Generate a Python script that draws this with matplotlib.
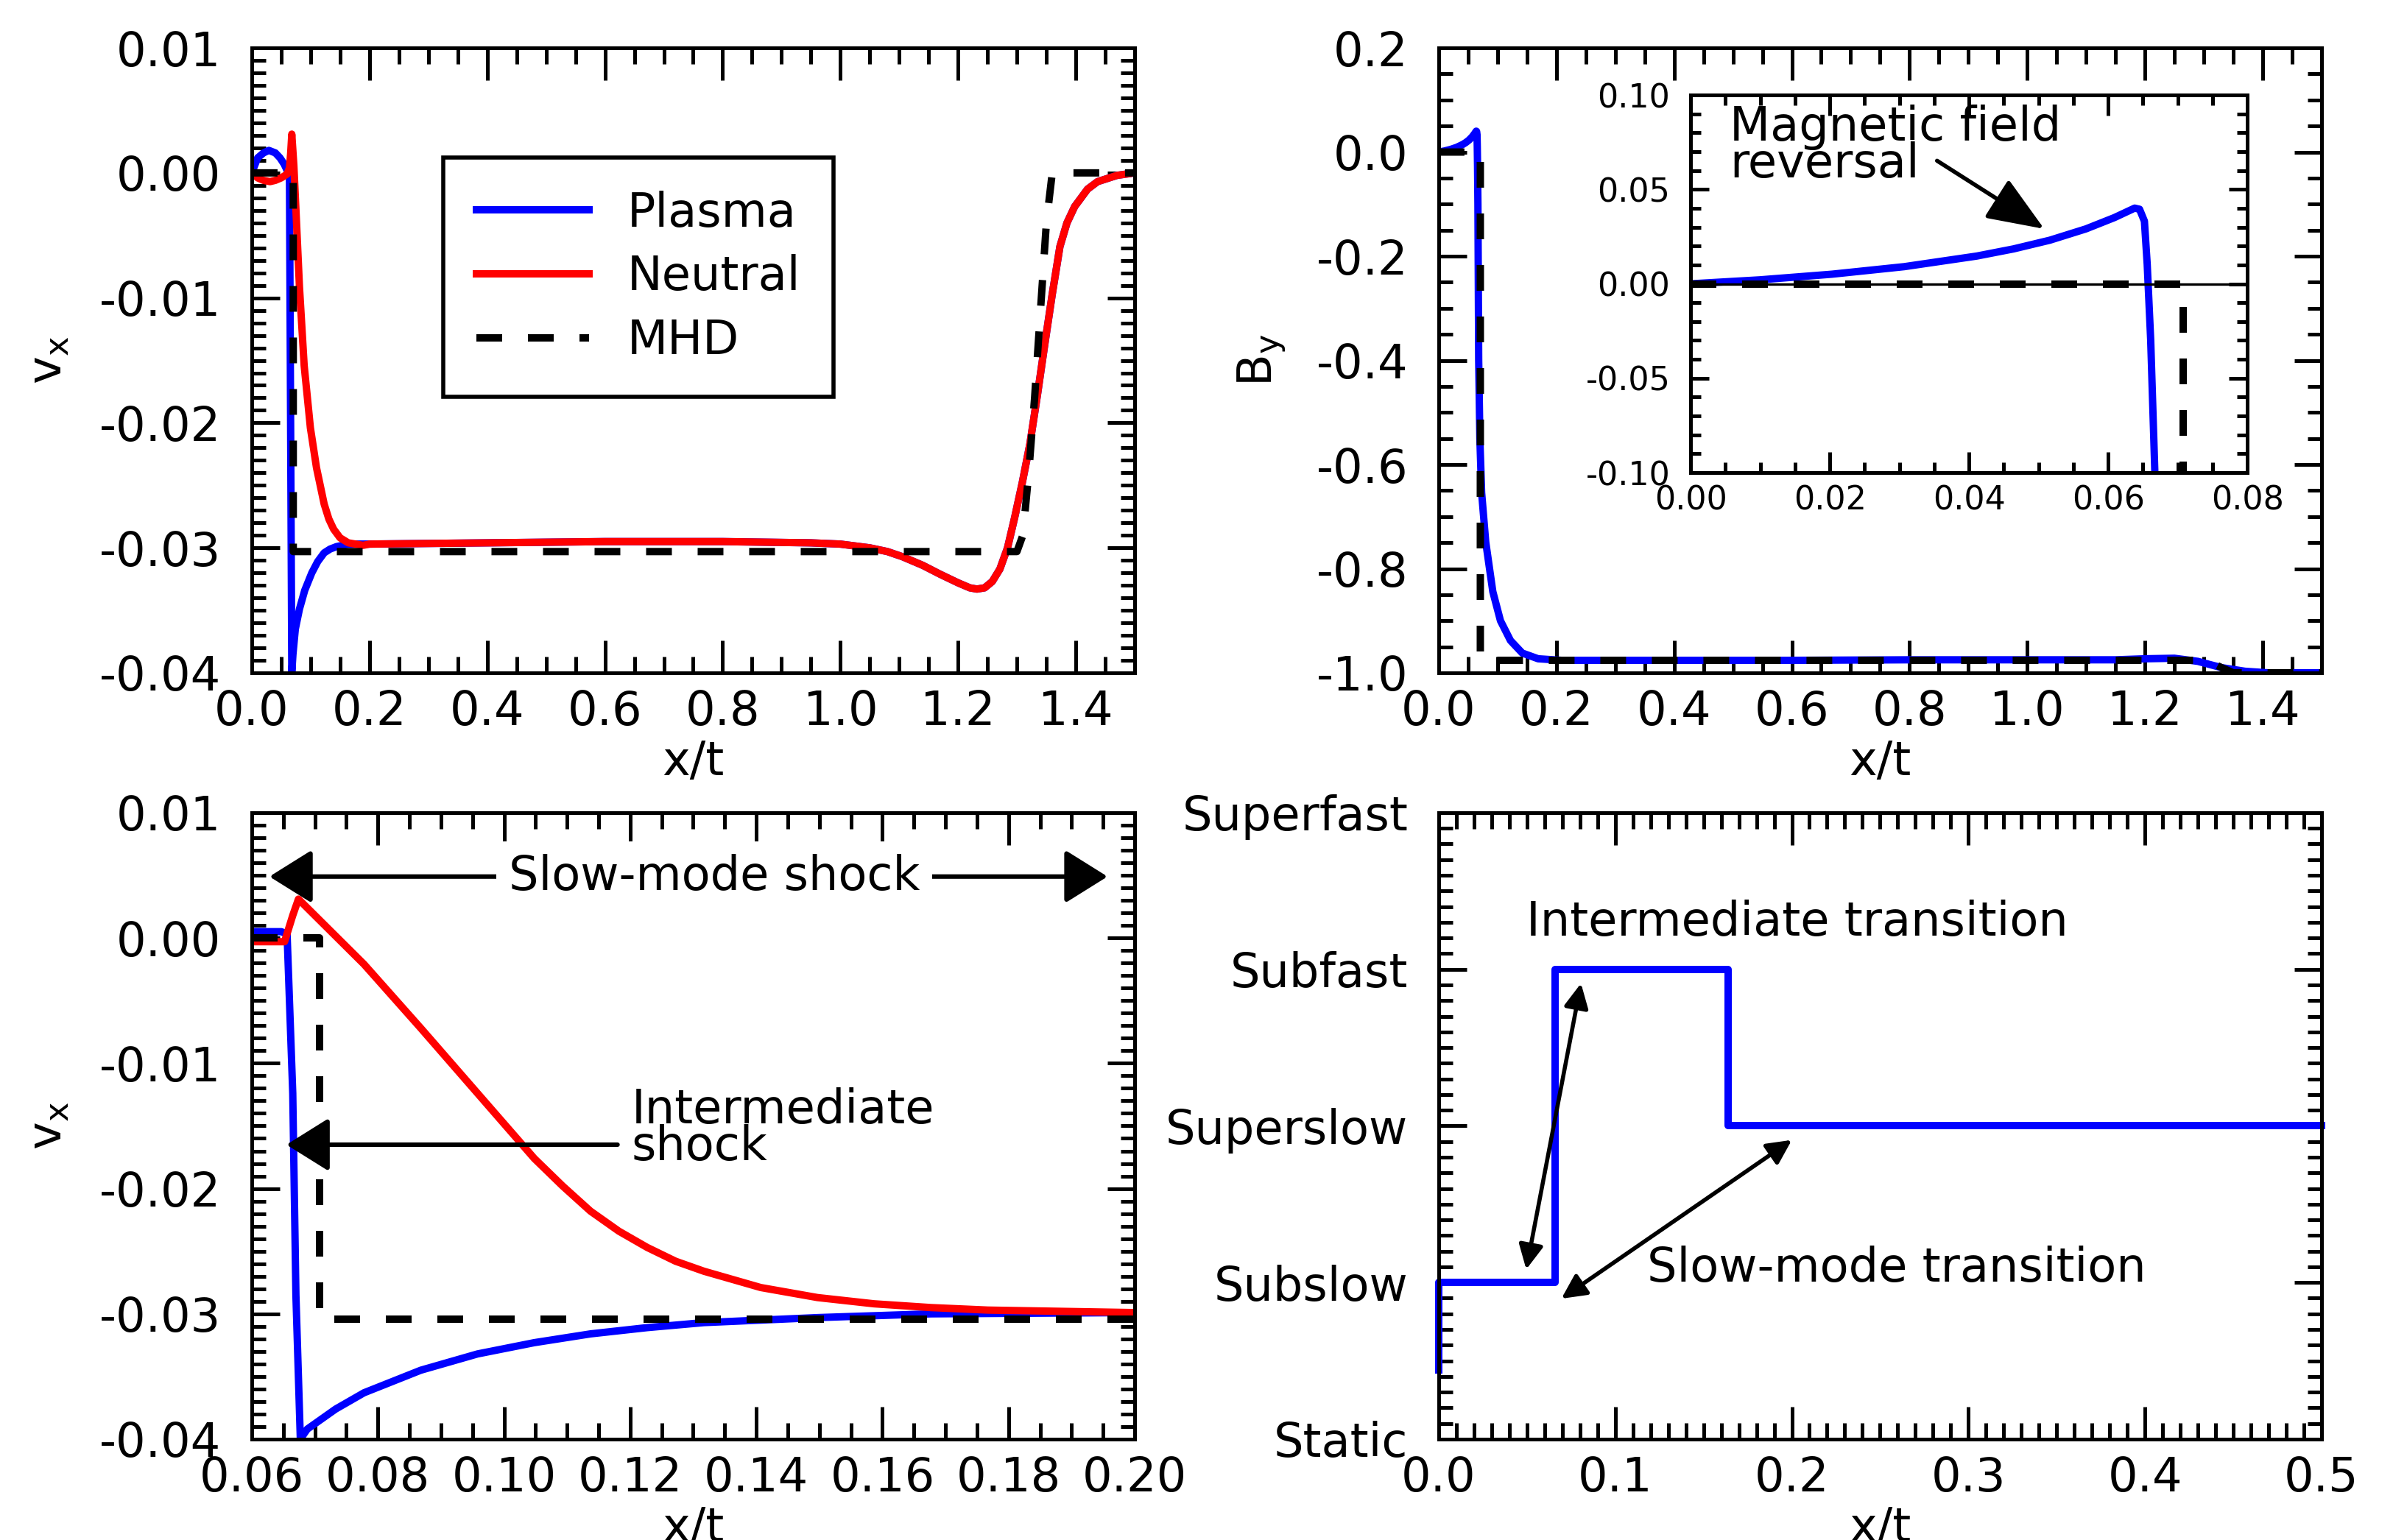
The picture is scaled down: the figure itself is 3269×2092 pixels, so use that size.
import matplotlib.pyplot as plt
from matplotlib.ticker import MultipleLocator, FormatStrFormatter

plt.rcParams['font.family'] = ['DejaVu Sans']
plt.rcParams['font.size'] = 23
plt.rcParams['mathtext.default'] = 'regular'
plt.rcParams['axes.unicode_minus'] = False
plt.rcParams['axes.linewidth'] = 1.8

# v_x profiles over the full range (plasma / neutral / MHD)
xt_plasma = [0.0, 0.01, 0.02, 0.029, 0.04, 0.048, 0.055, 0.060, 0.064, 0.066,
             0.068, 0.070, 0.074, 0.081, 0.090, 0.102, 0.112, 0.123, 0.133,
             0.144, 0.164, 0.2, 0.4, 0.6, 0.8, 0.95, 1.0, 1.05, 1.08, 1.105,
             1.14, 1.169, 1.20, 1.22, 1.232, 1.245, 1.258, 1.271, 1.284, 1.296,
             1.309, 1.322, 1.335, 1.347, 1.36, 1.373, 1.385, 1.398, 1.42, 1.437,
             1.47, 1.5]
vx_plasma = [0.0, 0.0012, 0.0016, 0.0018, 0.0016, 0.0012, 0.0007, 0.0002, 0.0,
             -0.0200, -0.0400, -0.0385, -0.0365, -0.0349, -0.0334, -0.0320,
             -0.0311, -0.0304, -0.0301, -0.0299, -0.0297, -0.0297, -0.0296,
             -0.0295, -0.0295, -0.0296, -0.0297, -0.0300, -0.0303, -0.0307,
             -0.0314, -0.0321, -0.0328, -0.0332, -0.0333, -0.0332, -0.0327,
             -0.0317, -0.0300, -0.0276, -0.0248, -0.0217, -0.0177, -0.0138,
             -0.0097, -0.0059, -0.0040, -0.0027, -0.0013, -0.0007, -0.0002, 0.0]

xt_neutral = [0.0, 0.01, 0.02, 0.031, 0.04, 0.05, 0.060, 0.064, 0.066, 0.068,
              0.0715, 0.0747, 0.081, 0.089, 0.0996, 0.110, 0.123, 0.131, 0.139,
              0.150, 0.164, 0.189, 0.2, 0.4, 0.6, 0.8, 0.95, 1.0, 1.05, 1.08,
              1.105, 1.14, 1.169, 1.20, 1.22, 1.232, 1.245, 1.258, 1.271, 1.284,
              1.296, 1.309, 1.322, 1.335, 1.347, 1.36, 1.373, 1.385, 1.398, 1.42,
              1.437, 1.47, 1.5]
vx_neutral = [0.0, -0.0004, -0.0006, -0.0007, -0.0006, -0.0004, -0.0001, 0.0004,
              0.0015, 0.0031, 0.0006, -0.0026, -0.0091, -0.0154, -0.0204,
              -0.0236, -0.0265, -0.0277, -0.0285, -0.0292, -0.0296, -0.0298,
              -0.0297, -0.0296, -0.0295, -0.0295, -0.0296, -0.0297, -0.0300,
              -0.0303, -0.0307, -0.0314, -0.0321, -0.0328, -0.0332, -0.0333,
              -0.0332, -0.0327, -0.0317, -0.0300, -0.0276, -0.0248, -0.0217,
              -0.0177, -0.0138, -0.0097, -0.0059, -0.0040, -0.0027, -0.0013,
              -0.0007, -0.0002, 0.0]

xt_mhd = [0.0, 0.0705, 0.0705, 1.30, 1.31, 1.32, 1.33, 1.34, 1.35, 1.36, 1.5]
vx_mhd = [0.0, 0.0, -0.0303, -0.0303, -0.0290, -0.0240, -0.0180, -0.0110,
          -0.0040, 0.0, 0.0]

# v_x close to the shock (bottom left)
xs_plasma = [0.06, 0.0647, 0.0656, 0.0665, 0.0670, 0.0677, 0.0688, 0.0733,
             0.0778, 0.0868, 0.0958, 0.1048, 0.1137, 0.1227, 0.1317, 0.1407,
             0.1497, 0.1677, 0.20]
vs_plasma = [0.0005, 0.0005, 0.0003, -0.0124, -0.0285, -0.0400, -0.0392,
             -0.0376, -0.0363, -0.0345, -0.0332, -0.0323, -0.0316, -0.0311,
             -0.0307, -0.0305, -0.0303, -0.0300, -0.0299]
xs_neutral = [0.06, 0.0652, 0.0665, 0.0674, 0.0778, 0.0868, 0.0958, 0.1003,
              0.1048, 0.1093, 0.1137, 0.1182, 0.1227, 0.1272, 0.1317, 0.1407,
              0.1497, 0.1587, 0.1677, 0.1767, 0.20]
vs_neutral = [-0.0003, -0.0003, 0.0018, 0.0031, -0.0021, -0.0072, -0.0124,
              -0.0150, -0.0176, -0.0198, -0.0218, -0.0234, -0.0247, -0.0258,
              -0.0266, -0.0279, -0.0287, -0.0292, -0.0295, -0.0297, -0.0299]
xs_mhd = [0.06, 0.0707, 0.0707, 0.20]
vs_mhd = [0.0, 0.0, -0.0304, -0.0304]

# B_y profiles
xt_by = [0.0, 0.0099, 0.0203, 0.0307, 0.0411, 0.0464, 0.0516, 0.0568, 0.0609,
         0.0638, 0.0645, 0.0652, 0.0656, 0.0661, 0.0667, 0.0680, 0.070, 0.073,
         0.080, 0.092, 0.105, 0.122, 0.142, 0.169, 0.209, 0.4, 0.6, 0.8, 1.0,
         1.15, 1.2, 1.25, 1.29, 1.33, 1.37, 1.41, 1.5]
by_plasma = [0.0, 0.0021, 0.0051, 0.0091, 0.0147, 0.0185, 0.0231, 0.0291,
             0.0351, 0.0401, 0.0395, 0.0332, 0.0104, -0.0296, -0.10, -0.40,
             -0.55, -0.654, -0.749, -0.844, -0.900, -0.938, -0.962, -0.973,
             -0.976, -0.976, -0.976, -0.975, -0.975, -0.975, -0.973, -0.972,
             -0.978, -0.990, -0.997, -1.0, -1.0]
xt_by_mhd = [0.0, 0.0708, 0.0708, 1.305, 1.33, 1.35, 1.5]
by_mhd = [0.0, 0.0, -0.976, -0.976, -0.99, -1.0, -1.0]

# wave-mode transitions
mode_names = ['Static', 'Subslow', 'Superslow', 'Subfast', 'Superfast']
xt_mode = [0.0, 0.0, 0.066, 0.066, 0.164, 0.164, 0.5]
mode_level = [0.44, 1, 1, 3, 3, 2, 2]

LW = 3.6
DASH = (0, (3.5, 3.5))


def style(ax, xmaj, xmin, ymaj, ymin, xfmt, yfmt, size=23, big=True):
    ax.xaxis.set_major_locator(MultipleLocator(xmaj))
    ax.xaxis.set_minor_locator(MultipleLocator(xmin))
    ax.yaxis.set_major_locator(MultipleLocator(ymaj))
    ax.yaxis.set_minor_locator(MultipleLocator(ymin))
    if xfmt:
        ax.xaxis.set_major_formatter(FormatStrFormatter(xfmt))
    if yfmt:
        ax.yaxis.set_major_formatter(FormatStrFormatter(yfmt))
    ax.tick_params(which='both', direction='in', top=True, right=True,
                   labelsize=size, width=1.8)
    if big:
        ax.tick_params(axis='x', which='major', length=16, pad=8)
        ax.tick_params(axis='x', which='minor', length=8)
        ax.tick_params(axis='y', which='major', length=13.5, pad=15)
        ax.tick_params(axis='y', which='minor', length=7)
    else:
        ax.tick_params(axis='x', which='major', length=10, pad=6)
        ax.tick_params(axis='x', which='minor', length=5)
        ax.tick_params(axis='y', which='major', length=9, pad=10)
        ax.tick_params(axis='y', which='minor', length=5)


fig = plt.figure(figsize=(16.345, 10.46), dpi=200)
ax1 = fig.add_axes([0.1046, 0.5631, 0.3668, 0.4058])
ax2 = fig.add_axes([0.5977, 0.5631, 0.3668, 0.4058])
ax3 = fig.add_axes([0.1046, 0.0655, 0.3668, 0.4068])
ax4 = fig.add_axes([0.5977, 0.0655, 0.3668, 0.4068])
axin = fig.add_axes([0.7024, 0.6931, 0.2313, 0.2452])

# top left: v_x over the whole range
ax1.plot(xt_plasma, vx_plasma, color='blue', lw=LW, label='Plasma')
ax1.plot(xt_neutral, vx_neutral, color='red', lw=LW, label='Neutral')
ax1.plot(xt_mhd, vx_mhd, color='black', lw=LW, ls=DASH, label='MHD')
ax1.set_xlim(0, 1.5)
ax1.set_ylim(-0.04, 0.01)
style(ax1, 0.2, 0.05, 0.01, 0.001, '%.1f', '%.2f')
ax1.set_xlabel('x/t', labelpad=2)
ax1.set_ylabel('$v_x$', labelpad=14)
leg = ax1.legend(loc='upper left', bbox_to_anchor=(0.217, 0.8245),
                 borderaxespad=0, fancybox=False, framealpha=1,
                 edgecolor='black', handlelength=2.4, handletextpad=0.8,
                 borderpad=0.7, labelspacing=0.385)
leg.get_frame().set_linewidth(2)

# top right: B_y
ax2.plot(xt_by, by_plasma, color='blue', lw=LW)
ax2.plot(xt_by_mhd, by_mhd, color='black', lw=LW, ls=DASH)
ax2.set_xlim(0, 1.5)
ax2.set_ylim(-1.0, 0.2)
style(ax2, 0.2, 0.05, 0.2, 0.05, '%.1f', '%.1f')
ax2.set_xlabel('x/t', labelpad=2)
ax2.set_ylabel('$B_y$', labelpad=14)

# inset: field reversal
axin.plot(xt_by, by_plasma, color='blue', lw=LW)
axin.plot(xt_by_mhd, by_mhd, color='black', lw=LW, ls=DASH)
axin.axhline(0, color='black', lw=1.2)
axin.set_xlim(0, 0.08)
axin.set_ylim(-0.1, 0.1)
style(axin, 0.02, 0.005, 0.05, 0.01, '%.2f', '%.2f', size=16, big=False)
axin.text(0.0056, 0.095, 'Magnetic field\nreversal', ha='left', va='top',
          fontsize=23, linespacing=0.75)
axin.annotate('', xy=(0.0508, 0.0291), xytext=(0.0354, 0.0652),
              arrowprops=dict(arrowstyle='-|>,head_length=0.4,head_width=0.16',
                              mutation_scale=60, lw=2, color='black',
                              shrinkA=0, shrinkB=0))

# bottom left: zoom on the shock
ax3.plot(xs_plasma, vs_plasma, color='blue', lw=LW)
ax3.plot(xs_neutral, vs_neutral, color='red', lw=LW)
ax3.plot(xs_mhd, vs_mhd, color='black', lw=LW, ls=DASH)
ax3.set_xlim(0.06, 0.20)
ax3.set_ylim(-0.04, 0.01)
style(ax3, 0.02, 0.005, 0.01, 0.001, '%.2f', '%.2f')
ax3.set_xlabel('x/t', labelpad=2)
ax3.set_ylabel('$v_x$', labelpad=14)
ax3.annotate('', xy=(0.0628, 0.0049), xytext=(0.1957, 0.0049),
             arrowprops=dict(arrowstyle='<|-|>,head_length=0.4,head_width=0.25',
                             mutation_scale=45, lw=2.2, color='black',
                             shrinkA=0, shrinkB=0))
ax3.text(0.1333, 0.0049, 'Slow-mode shock', ha='center', va='center',
         bbox=dict(facecolor='white', edgecolor='none', pad=6), zorder=5)
ax3.annotate('', xy=(0.0655, -0.0165), xytext=(0.118, -0.0165),
             arrowprops=dict(arrowstyle='-|>,head_length=0.4,head_width=0.25',
                             mutation_scale=45, lw=2.2, color='black',
                             shrinkA=0, shrinkB=0))
ax3.text(0.1202, -0.0152, 'Intermediate\nshock', ha='left', va='center',
         linespacing=0.75)

# bottom right: mode transitions
ax4.plot(xt_mode, mode_level, color='blue', lw=LW, clip_on=False)
ax4.set_xlim(0, 0.5)
ax4.set_ylim(0, 4)
style(ax4, 0.1, 0.01, 1, 0.1, '%.1f', None)
ax4.set_yticks(range(len(mode_names)))
ax4.set_yticklabels(mode_names)
ax4.set_xlabel('x/t', labelpad=2)
ax4.text(0.0496, 3.30, 'Intermediate transition', ha='left', va='center')
ax4.text(0.118, 1.09, 'Slow-mode transition', ha='left', va='center')
ax4.annotate('', xy=(0.0806, 2.91), xytext=(0.0496, 1.084),
             arrowprops=dict(arrowstyle='<|-|>,head_length=0.4,head_width=0.2',
                             mutation_scale=25, lw=2, color='black',
                             shrinkA=0, shrinkB=0))
ax4.annotate('', xy=(0.200, 1.91), xytext=(0.0695, 0.897),
             arrowprops=dict(arrowstyle='<|-|>,head_length=0.4,head_width=0.2',
                             mutation_scale=25, lw=2, color='black',
                             shrinkA=0, shrinkB=0))

fig.savefig('out.png', dpi=200)
